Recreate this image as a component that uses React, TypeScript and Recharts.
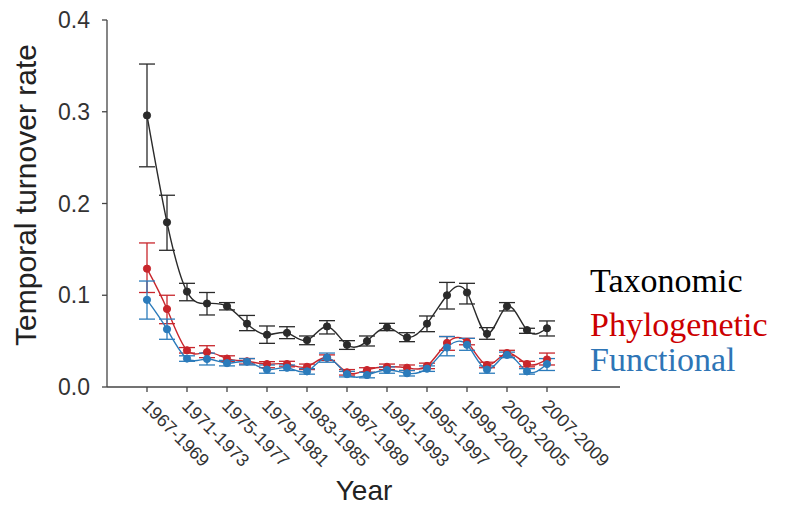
import React from "react";
import { LineChart, Line, XAxis, YAxis, ErrorBar } from "recharts";

const periods = [
  "1967-1969", "1969-1971", "1971-1973", "1973-1975", "1975-1977", "1977-1979", "1979-1981",
  "1981-1983", "1983-1985", "1985-1987", "1987-1989", "1989-1991", "1991-1993", "1993-1995",
  "1995-1997", "1997-1999", "1999-2001", "2001-2003", "2003-2005", "2005-2007", "2007-2009",
];

const taxonomic = [0.296, 0.1795, 0.104, 0.091, 0.088, 0.069, 0.057, 0.059, 0.051, 0.066, 0.046, 0.05, 0.065, 0.054, 0.069, 0.1, 0.103, 0.058, 0.088, 0.062, 0.064];
const taxonomicHigh = [0.352, 0.209, 0.113, 0.103, 0.092, 0.078, 0.0665, 0.0657, 0.0556, 0.0723, 0.0505, 0.0556, 0.0694, 0.0592, 0.0774, 0.114, 0.113, 0.0647, 0.092, 0.064, 0.072];
const taxonomicLow = [0.24, 0.149, 0.094, 0.0785, 0.084, 0.0614, 0.0476, 0.0527, 0.0461, 0.0578, 0.041, 0.0447, 0.0614, 0.0494, 0.0603, 0.085, 0.0905, 0.052, 0.0829, 0.0585, 0.0556];

const phylogenetic = [0.129, 0.085, 0.04, 0.038, 0.031, 0.028, 0.025, 0.025, 0.022, 0.032, 0.016, 0.0185, 0.022, 0.021, 0.023, 0.048, 0.049, 0.024, 0.037, 0.025, 0.03];
const phylogeneticHigh = [0.157, 0.1, 0.043, 0.045, 0.034, 0.031, 0.0276, 0.028, 0.025, 0.035, 0.019, 0.021, 0.025, 0.024, 0.026, 0.055, 0.053, 0.027, 0.04, 0.028, 0.037];
const phylogeneticLow = [0.103, 0.069, 0.037, 0.032, 0.028, 0.025, 0.021, 0.022, 0.019, 0.029, 0.013, 0.016, 0.019, 0.018, 0.02, 0.04, 0.046, 0.021, 0.034, 0.022, 0.024];

const functional = [0.095, 0.063, 0.031, 0.0305, 0.026, 0.0276, 0.019, 0.021, 0.017, 0.032, 0.014, 0.013, 0.0185, 0.015, 0.02, 0.043, 0.046, 0.019, 0.035, 0.017, 0.025];
const functionalHigh = [0.1155, 0.074, 0.034, 0.037, 0.029, 0.031, 0.024, 0.024, 0.02, 0.037, 0.017, 0.016, 0.022, 0.018, 0.023, 0.055, 0.053, 0.023, 0.038, 0.02, 0.031];
const functionalLow = [0.074, 0.052, 0.028, 0.024, 0.023, 0.024, 0.015, 0.018, 0.014, 0.027, 0.011, 0.01, 0.015, 0.012, 0.017, 0.034, 0.04, 0.015, 0.032, 0.014, 0.018];

const yTicks = [0, 0.1, 0.2, 0.3, 0.4];

const BLACK = "#2a2a2a";
const RED = "#c8262c";
const BLUE = "#2b7bbb";

// ErrorBar wants [below, above] offsets from the mean
const data = periods.map((p, i) => ({
  period: p,
  tax: taxonomic[i],
  taxErr: [taxonomic[i] - taxonomicLow[i], taxonomicHigh[i] - taxonomic[i]],
  phy: phylogenetic[i],
  phyErr: [phylogenetic[i] - phylogeneticLow[i], phylogeneticHigh[i] - phylogenetic[i]],
  fun: functional[i],
  funErr: [functional[i] - functionalLow[i], functionalHigh[i] - functional[i]],
}));

const sans = '"Liberation Sans", Arial, sans-serif';
const serif = '"Liberation Serif", "Times New Roman", serif';

function PeriodTick({ x, y, payload }: any) {
  return (
    <g transform={`translate(${x - 6},${y + 13})`}>
      <text transform="rotate(45)" textAnchor="start" fontSize={18} fontFamily={sans} fill="#333">
        {payload.value}
      </text>
    </g>
  );
}

export default function App() {
  const seriesLine = (key: string, errKey: string, color: string) => (
    <Line
      key={key}
      type="natural"
      dataKey={key}
      stroke={color}
      strokeWidth={1.4}
      dot={{ r: 3.6, fill: color, stroke: color, strokeWidth: 1 }}
      activeDot={false}
      isAnimationActive={false}
    >
      <ErrorBar dataKey={errKey} direction="y" width={8} stroke={color} strokeWidth={1.3} />
    </Line>
  );

  const legendText = { position: "absolute" as const, left: 590, fontFamily: serif, fontSize: 34, lineHeight: 0.9 };

  return (
    <div style={{ position: "absolute", left: 0, top: 0, width: 792, height: 507, background: "#fff" }}>
      <LineChart width={792} height={507} data={data} margin={{ top: 20, right: 172, bottom: 0, left: 0 }}>
        <XAxis
          dataKey="period"
          height={120}
          interval={1}
          padding={{ left: 40, right: 73 }}
          tick={<PeriodTick />}
          tickSize={5}
          stroke="#444"
          strokeWidth={1.3}
        />
        <YAxis
          width={107}
          domain={[0, 0.4]}
          ticks={yTicks}
          tickFormatter={(v: number) => v.toFixed(1)}
          tickSize={5}
          tickMargin={12}
          tick={{ fontSize: 23, fontFamily: sans, fill: "#333" }}
          stroke="#444"
          strokeWidth={1.3}
        />
        {seriesLine("tax", "taxErr", BLACK)}
        {seriesLine("phy", "phyErr", RED)}
        {seriesLine("fun", "funErr", BLUE)}
      </LineChart>

      <div
        style={{
          position: "absolute", left: 26, top: 195, transform: "translate(-50%,-50%) rotate(-90deg)",
          whiteSpace: "nowrap", fontFamily: sans, fontSize: 30, lineHeight: 1, color: "#222",
        }}
      >
        Temporal turnover rate
      </div>
      <div
        style={{
          position: "absolute", left: 364, top: 478, transform: "translateX(-50%)",
          fontFamily: sans, fontSize: 28, lineHeight: 0.9, color: "#222",
        }}
      >
        Year
      </div>

      <div style={{ ...legendText, top: 266, color: "#000" }}>Taxonomic</div>
      <div style={{ ...legendText, top: 310, color: "#cc0000" }}>Phylogenetic</div>
      <div style={{ ...legendText, top: 345, color: "#2e75b6" }}>Functional</div>
    </div>
  );
}
